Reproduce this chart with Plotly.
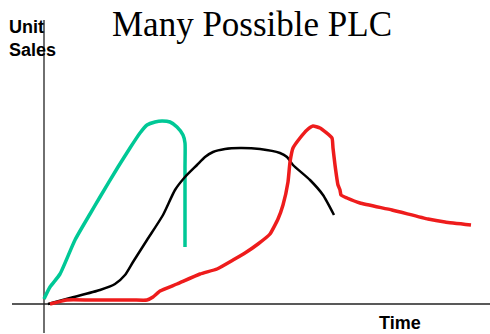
import plotly.graph_objects as go

# Data: x = time units, y = unit sales (origin at axis intersection)
teal_x = [0, 6, 16, 31, 46, 56, 74, 86, 96, 103, 111, 118, 126, 133, 139, 141, 141, 141]
teal_y = [5, 17, 30, 64, 90, 107, 137, 156, 171, 179, 182, 183, 182, 177, 169, 161, 137, 57]

black_x = [4, 26, 56, 71, 81, 89, 103, 119, 131, 141, 153, 161, 169, 181, 196, 216, 236, 243, 249, 266, 279, 290]
black_y = [0, 6, 14, 20, 29, 42, 64, 89, 114, 127, 139, 147, 152, 155, 156, 155, 151, 147, 139, 124, 109, 89]

red_x = [6, 23, 46, 89, 103, 109, 116, 133, 156, 173, 189, 201, 214, 226, 234, 239, 244, 246, 249, 256, 263, 269, 276, 288, 289, 291, 294, 296, 297, 303, 316, 348, 384, 401, 427]
red_y = [0, 4, 4, 4, 4, 7, 13, 20, 30, 35, 44, 51, 60, 70, 85, 99, 122, 142, 156, 166, 174, 178, 176, 166, 156, 139, 119, 114, 109, 106, 101, 94, 85, 82, 79]

title_text = "Many Possible PLC"
y_label = "Unit<br>Sales"
x_label = "Time"

W, H = 490, 334
ox, oy = 44, 304  # origin position in figure pixels

fig = go.Figure()
fig.add_trace(go.Scatter(x=teal_x, y=teal_y, mode="lines",
                         line=dict(color="#00C896", width=3.5, shape="spline", smoothing=0.6)))
fig.add_trace(go.Scatter(x=black_x, y=black_y, mode="lines",
                         line=dict(color="#000000", width=2.5, shape="spline", smoothing=0.6)))
fig.add_trace(go.Scatter(x=red_x, y=red_y, mode="lines",
                         line=dict(color="#EE1C1C", width=3.5, shape="spline", smoothing=0.4)))

# axes lines
fig.add_shape(type="line", x0=0, x1=0, y0=-29, y1=284, line=dict(color="#222", width=1.3), layer="below")
fig.add_shape(type="line", x0=-32, x1=460, y0=0, y1=0, line=dict(color="#222", width=1.3), layer="below")

def px(x, y):
    return x / W, 1 - y / H

tx, ty = px(252, 24)
fig.add_annotation(text=title_text, x=tx, y=ty, xref="paper", yref="paper", showarrow=False,
                   xanchor="center", yanchor="middle",
                   font=dict(family="Liberation Serif", size=35, color="#000"))
ux, uy = px(7, 39)
fig.add_annotation(text="<b>" + y_label + "</b>", x=ux, y=uy, xref="paper", yref="paper", showarrow=False,
                   xanchor="left", yanchor="middle", align="left",
                   font=dict(family="Liberation Sans", size=18, color="#000"))
lx, ly = px(400, 323)
fig.add_annotation(text="<b>" + x_label + "</b>", x=lx, y=ly, xref="paper", yref="paper", showarrow=False,
                   xanchor="center", yanchor="middle",
                   font=dict(family="Liberation Sans", size=18, color="#000"))

fig.update_layout(
    width=W, height=H, margin=dict(l=0, r=0, t=0, b=0),
    paper_bgcolor="white", plot_bgcolor="white", showlegend=False,
    hovermode=False,
    xaxis=dict(range=[-ox, W - ox], visible=False, fixedrange=True),
    yaxis=dict(range=[-(H - oy), oy], visible=False, fixedrange=True),
)

fig.write_html("out.html", config={"displayModeBar": False, "staticPlot": True},
               post_script="document.body.style.margin='0';")
